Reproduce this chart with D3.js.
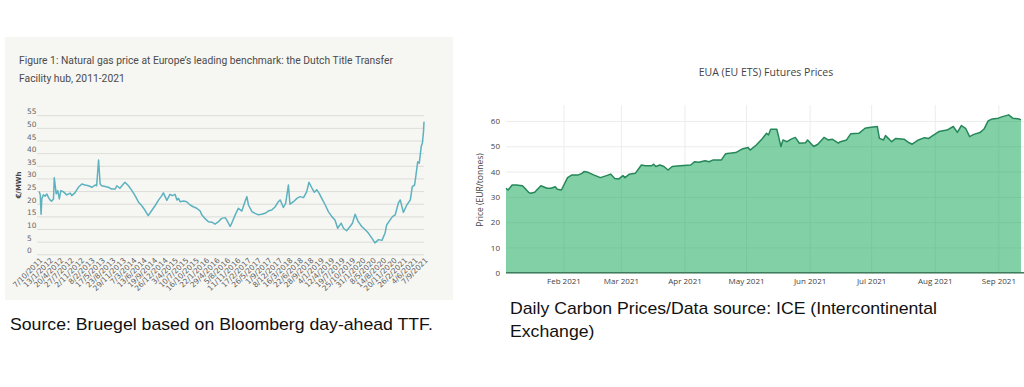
<!DOCTYPE html>
<html><head><meta charset="utf-8">
<script src="https://cdn.jsdelivr.net/npm/d3@7"></script>
<style>html,body{margin:0;padding:0;background:#fff;overflow:hidden}svg{display:block}</style>
</head><body><svg id="c" width="1024" height="387"></svg>
<script>
// ---------- Left chart data: Dutch TTF day-ahead gas price (EUR/MWh), dates as decimal years ----------
const gasYears = [2011.77,2011.80,2011.82,2011.84,2011.88,2011.92,2011.97,2012.01,2012.05,2012.09,2012.14,2012.16,2012.21,2012.25,2012.29,2012.33,2012.39,2012.48,2012.57,2012.61,2012.69,2012.78,2012.87,2012.95,2013.04,2013.13,2013.21,2013.25,2013.30,2013.34,2013.38,2013.47,2013.55,2013.64,2013.73,2013.77,2013.85,2013.94,2013.98,2014.07,2014.16,2014.24,2014.33,2014.41,2014.50,2014.58,2014.67,2014.76,2014.84,2014.93,2014.97,2015.06,2015.14,2015.20,2015.27,2015.32,2015.36,2015.40,2015.49,2015.57,2015.66,2015.74,2015.83,2015.92,2015.96,2016.04,2016.13,2016.22,2016.30,2016.39,2016.47,2016.56,2016.60,2016.69,2016.73,2016.82,2016.90,2016.99,2017.07,2017.12,2017.16,2017.25,2017.33,2017.42,2017.50,2017.59,2017.67,2017.76,2017.85,2017.93,2017.98,2018.06,2018.12,2018.19,2018.23,2018.32,2018.41,2018.49,2018.58,2018.66,2018.72,2018.79,2018.86,2018.92,2018.98,2019.05,2019.14,2019.22,2019.31,2019.39,2019.46,2019.55,2019.61,2019.69,2019.78,2019.84,2019.91,2019.99,2020.08,2020.17,2020.25,2020.34,2020.42,2020.51,2020.60,2020.68,2020.72,2020.81,2020.87,2020.94,2021.02,2021.07,2021.15,2021.24,2021.33,2021.38,2021.44,2021.47,2021.52,2021.56,2021.61,2021.64,2021.67,2021.682];
const gasPrices = [24.8,23.5,15.8,22.0,23.5,23.0,23.8,22.5,21.5,21.0,21.9,30.3,23.9,25.2,21.9,25.2,24.8,23.5,24.2,23.2,24.3,26.5,27.8,27.4,27.1,26.5,27.4,27.1,37.3,27.8,27.1,26.8,26.5,25.8,25.8,27.1,26.1,27.8,28.5,27.1,25.2,23.2,20.6,19.3,17.3,15.3,17.3,19.3,21.3,23.2,24.3,21.3,23.7,23.2,23.7,21.5,22.1,20.8,21.1,20.8,19.5,18.8,18.2,17.1,15.6,14.2,12.9,12.7,11.9,12.9,14.2,14.5,13.6,11.0,12.3,15.6,18.2,17.1,20.8,22.8,19.5,16.9,16.2,15.6,15.8,16.2,17.1,17.5,18.8,20.8,21.5,18.5,20.2,27.4,19.8,20.8,22.1,22.8,22.4,24.7,28.5,26.4,24.5,25.5,24.2,22.1,19.5,16.9,14.9,13.6,10.3,12.3,10.3,9.3,11.0,12.3,15.8,12.9,11.0,9.7,8.4,6.4,4.5,5.8,5.5,8.4,11.6,13.6,14.9,15.6,20.2,21.5,16.6,19.5,21.5,26.8,27.4,30.7,36.6,36.0,42.6,43.9,48.6,52.4];
const gasTickLabels = ["7/10/2011","13/1/2012","20/4/2012","27/7/2012","2/11/2012","8/2/2013","17/5/2013","23/8/2013","29/11/2013","7/3/2014","13/6/2014","19/9/2014","26/12/2014","3/4/2015","10/7/2015","16/10/2015","22/1/2016","29/4/2016","5/8/2016","11/11/2016","17/2/2017","26/5/2017","1/9/2017","8/12/2017","16/3/2018","22/6/2018","28/9/2018","4/1/2019","12/4/2019","19/7/2019","25/10/2019","31/1/2020","8/5/2020","14/8/2020","20/11/2020","26/2/2021","4/6/2021","7/9/2021"];
const gasYTicks = [0,5,10,15,20,25,30,35,40,45,50,55];
const gasTitle = ["Figure 1: Natural gas price at Europe\u2019s leading benchmark: the Dutch Title Transfer","Facility hub, 2011-2021"];
const gasYTitle = "\u20AC/MWh";
const gasCaption = "Source: Bruegel based on Bloomberg day-ahead TTF.";

// ---------- Right chart data: EUA futures prices 2021 (EUR/tonne) ----------
const euaDates = ["2021-01-04","2021-01-05","2021-01-07","2021-01-09","2021-01-12","2021-01-13","2021-01-15","2021-01-16","2021-01-18","2021-01-19","2021-01-21","2021-01-24","2021-01-26","2021-01-28","2021-01-29","2021-01-31","2021-02-03","2021-02-05","2021-02-08","2021-02-10","2021-02-11","2021-02-13","2021-02-16","2021-02-19","2021-02-22","2021-02-24","2021-02-26","2021-02-28","2021-03-02","2021-03-03","2021-03-05","2021-03-08","2021-03-11","2021-03-13","2021-03-16","2021-03-17","2021-03-18","2021-03-20","2021-03-22","2021-03-24","2021-03-26","2021-03-30","2021-04-04","2021-04-06","2021-04-08","2021-04-11","2021-04-13","2021-04-15","2021-04-19","2021-04-21","2021-04-26","2021-04-29","2021-05-02","2021-05-03","2021-05-06","2021-05-09","2021-05-11","2021-05-12","2021-05-13","2021-05-16","2021-05-17","2021-05-18","2021-05-19","2021-05-21","2021-05-23","2021-05-25","2021-05-27","2021-05-30","2021-05-31","2021-06-03","2021-06-05","2021-06-08","2021-06-10","2021-06-12","2021-06-15","2021-06-16","2021-06-19","2021-06-21","2021-06-25","2021-06-28","2021-06-30","2021-07-04","2021-07-05","2021-07-07","2021-07-08","2021-07-11","2021-07-13","2021-07-17","2021-07-19","2021-07-21","2021-07-24","2021-07-27","2021-07-29","2021-07-31","2021-08-03","2021-08-07","2021-08-10","2021-08-12","2021-08-14","2021-08-16","2021-08-18","2021-08-20","2021-08-23","2021-08-25","2021-08-27","2021-08-29","2021-09-01","2021-09-03","2021-09-06","2021-09-08","2021-09-11","2021-09-12"];
const euaPrices = [33.4,32.7,34.7,34.7,34.4,33.6,31.8,31.4,31.8,32.7,34.4,33.4,33.4,34.0,33.0,32.7,37.6,38.6,38.6,39.3,40.0,39.7,38.6,37.6,38.4,39.0,37.3,37.1,38.4,37.6,38.9,39.3,42.6,42.3,42.3,42.9,42.0,42.6,42.0,40.6,42.0,42.3,42.6,43.9,43.7,44.3,43.9,44.6,44.6,47.0,47.5,48.9,49.5,48.5,50.5,53.1,55.1,54.5,56.7,56.7,53.4,49.9,52.5,51.8,52.8,53.5,51.2,51.4,52.5,49.9,50.8,53.5,52.5,52.8,51.2,51.8,52.5,54.9,55.1,57.1,57.4,57.8,53.1,52.5,54.2,51.8,53.1,52.8,51.6,50.8,52.5,53.4,53.1,54.2,55.8,56.4,57.8,55.5,58.2,57.1,53.8,54.7,55.4,56.8,60.0,60.8,61.1,61.7,62.4,61.1,60.8,60.4];
const euaYTicks = [0,10,20,30,40,50,60];
const euaTitle = "EUA (EU ETS) Futures Prices";
const euaYTitle = "Price (EUR/tonnes)";
const euaCaption = ["Daily Carbon Prices/Data source: ICE (Intercontinental","Exchange)"];

// ---------- helpers ----------
function fromDec(y){const yr=Math.floor(y);const s=Date.UTC(yr,0,1),e=Date.UTC(yr+1,0,1);return new Date(s+(y-yr)*(e-s));}
const parseG = d3.utcParse("%d/%m/%Y");
const parseE = d3.utcParse("%Y-%m-%d");
const svg = d3.select("#c");

// ===== LEFT CHART =====
svg.append("rect").attr("x",5).attr("y",37).attr("width",448).attr("height",263).attr("fill","#f6f6f3");

const titleG = svg.append("g").attr("font-family","Roboto, 'Noto Sans', sans-serif").attr("font-size",11.5).attr("fill","#4b4b4b");
const t1 = titleG.append("text").attr("x",19).attr("y",64).text(gasTitle[0]);
const t2 = titleG.append("text").attr("x",19).attr("y",82).text(gasTitle[1]);
const tf = 374 / t1.node().getComputedTextLength();
t1.attr("textLength",374).attr("lengthAdjust","spacingAndGlyphs");
t2.attr("textLength",t2.node().getComputedTextLength()*tf).attr("lengthAdjust","spacingAndGlyphs");

const gx = d3.scaleUtc().domain([fromDec(2011.767), parseG("7/9/2021")]).range([39,424]);
const gy = d3.scaleLinear().domain([0,55]).range([254.3,115.2]);

const gyAxis = svg.append("g").attr("transform","translate(37,0)")
  .call(d3.axisLeft(gy).tickValues(gasYTicks).tickSize(-(424-37)).tickPadding(0));
gyAxis.select(".domain").remove();
gyAxis.selectAll(".tick line").attr("stroke","#dcdcd8").attr("stroke-width",1);
gyAxis.selectAll(".tick text").attr("x",-10).attr("dy","-0.2em").attr("text-anchor","start")
  .attr("font-family","'DejaVu Sans', sans-serif").attr("font-size",7.4).attr("fill","#666");

const gxAxis = svg.append("g").attr("transform","translate(0,258)")
  .call(d3.axisBottom(gx).tickValues(gasTickLabels.map(parseG)).tickFormat((d,i)=>gasTickLabels[i]).tickSize(0).tickPadding(0));
gxAxis.select(".domain").remove();
gxAxis.selectAll(".tick text").attr("text-anchor","end").attr("dy","0.35em").attr("y",0).attr("x",0)
  .attr("transform","translate(2,1) rotate(-45)")
  .attr("font-family","'DejaVu Sans', sans-serif").attr("font-size",7.5).attr("fill","#5f5f5f");

svg.append("text").attr("transform","translate(21,185) rotate(-90)").attr("text-anchor","middle")
  .attr("font-family","'DejaVu Sans', sans-serif").attr("font-size",7).attr("font-weight","bold").attr("fill","#444").text(gasYTitle);

const gasData = gasYears.map((y,i)=>({d:fromDec(y),v:gasPrices[i]}));
svg.append("path").datum(gasData).attr("fill","none").attr("stroke","#5cb2bf").attr("stroke-width",1.5)
  .attr("stroke-linejoin","round")
  .attr("d",d3.line().x(d=>gx(d.d)).y(d=>gy(d.v)));

// ===== RIGHT CHART =====
const ex = d3.scaleUtc().domain([parseE("2021-01-04"), parseE("2021-09-13")]).range([506,1023]);
const ey = d3.scaleLinear().domain([0,66.3]).range([272.8,105]);

const eyAxis = svg.append("g").attr("transform","translate(506,0)")
  .call(d3.axisLeft(ey).tickValues(euaYTicks).tickSize(-(1024-506)).tickPadding(6));
eyAxis.select(".domain").remove();
eyAxis.selectAll(".tick line").attr("stroke","#ececec").attr("stroke-width",1);
eyAxis.selectAll(".tick text").attr("font-family","'Open Sans', sans-serif").attr("font-size",8).attr("fill","#444");

const exAxis = svg.append("g").attr("transform","translate(0,272.8)")
  .call(d3.axisBottom(ex).ticks(d3.utcMonth.every(1)).tickFormat(d3.utcFormat("%b %Y")).tickSize(-(272.8-105)).tickPadding(6));
exAxis.select(".domain").remove();
exAxis.selectAll(".tick line").attr("stroke","#ececec").attr("stroke-width",1);
exAxis.selectAll(".tick text").attr("font-family","'Open Sans', sans-serif").attr("font-size",8).attr("fill","#444");

const euaData = euaDates.map((d,i)=>({d:parseE(d),v:euaPrices[i]}));
svg.append("path").datum(euaData).attr("fill","rgba(5,161,77,0.5)")
  .attr("d",d3.area().x(d=>ex(d.d)).y0(ey(0)).y1(d=>ey(d.v)));
svg.append("path").datum(euaData).attr("fill","none").attr("stroke","#26875a").attr("stroke-width",1.5)
  .attr("stroke-linejoin","round")
  .attr("d",d3.line().x(d=>ex(d.d)).y(d=>ey(d.v)));
svg.append("line").attr("x1",ex.range()[0]).attr("x2",1024).attr("y1",ey(0)).attr("y2",ey(0))
  .attr("stroke","#3d7d5c").attr("stroke-width",1.5);

svg.append("text").attr("x",766).attr("y",72).attr("dy","0.35em").attr("text-anchor","middle")
  .attr("font-family","'Open Sans', sans-serif").attr("font-size",10.5).attr("fill","#444").text(euaTitle);
svg.append("text").attr("transform","translate(480,190) rotate(-90)").attr("text-anchor","middle").attr("dy","0.35em")
  .attr("font-family","'Open Sans', sans-serif").attr("font-size",8.5).attr("fill","#444").text(euaYTitle);

// ===== CAPTIONS =====
const capG = svg.append("g").attr("font-family","'Liberation Sans Narrow', 'Liberation Sans', Arial, sans-serif").attr("font-size",17).attr("fill","#111");
const c0 = capG.append("text").attr("x",10).attr("y",330).text(gasCaption);
const c1 = capG.append("text").attr("x",510).attr("y",314).text(euaCaption[0]);
const c2 = capG.append("text").attr("x",510).attr("y",337).text(euaCaption[1]);
const cf = 427 / c1.node().getComputedTextLength();
[c0,c1,c2].forEach(t=>t.attr("textLength",t.node().getComputedTextLength()*cf).attr("lengthAdjust","spacingAndGlyphs"));
</script>
</body></html>
